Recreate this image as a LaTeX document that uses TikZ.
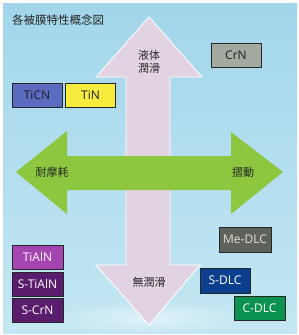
\documentclass[tikz,border=0pt]{standalone}
\usepackage{fontspec}
\setmainfont{Open Sans}
\newfontfamily\jp{Noto Sans CJK JP}
\definecolor{bgblue}{HTML}{A3D6EB}
\definecolor{bglight}{HTML}{C4E7F3}
\definecolor{pinkarrow}{HTML}{E2D3E3}
\definecolor{greenarrow}{HTML}{8DC63F}
\definecolor{cTiCN}{HTML}{5B6BBF}
\definecolor{cTiN}{HTML}{F7EC3E}
\definecolor{cCrN}{HTML}{A3AAA0}
\definecolor{cTiAlN}{HTML}{A445B2}
\definecolor{cSTi}{HTML}{5A1C6C}
\definecolor{cMe}{HTML}{5F6259}
\definecolor{cSDLC}{HTML}{0D3F8F}
\definecolor{cCDLC}{HTML}{0B9250}
\definecolor{darktext}{HTML}{1E1E2A}
\tikzset{
  film/.style={draw=black!85, line width=1pt, minimum width=50pt, minimum height=24pt,
    inner sep=0pt, font=\fontsize{12}{12}\selectfont},
  jplabel/.style={font=\jp\fontsize{11}{13.5}\selectfont, text=black!85, align=center, inner sep=0pt},
}
\begin{document}
\begin{tikzpicture}[x=1pt,y=-1pt]
\useasboundingbox (0,0) rectangle (299,335);
\fill[white] (0,0) rectangle (299,335);
\shade[top color=bgblue, bottom color=bglight] (3,3) rectangle (297,333);
\shade[inner color=white, outer color=bglight, opacity=0.5] (150,318) ellipse (95 and 16);
% title
\node[font=\jp\fontsize{11.5}{13}\selectfont, anchor=west, inner sep=0pt, text=black!85] (title) at (12,20) {各被膜特性概念図};
% vertical arrow
\draw[fill=pinkarrow, draw=white, line width=0.8pt]
  (149,17) -- (202,77) -- (170,77) -- (170,265) -- (200,265) -- (149,325)
  -- (96,265) -- (126,265) -- (126,77) -- (96,77) -- cycle;
% horizontal arrow
\fill[greenarrow]
  (16,172) -- (67,131) -- (67,156) -- (231,156) -- (231,132) -- (283,172)
  -- (231,214) -- (231,190) -- (67,190) -- (67,214) -- cycle;
% labels
\node[jplabel] (liq) at (149,62) {液体\\潤滑};
\node[jplabel] (nolub) at (149,282) {無潤滑};
\node[jplabel] (wear) at (52,172) {耐摩耗};
\node[jplabel] (slide) at (243,172) {摺動};
% films
\node[film, fill=cTiCN, text=darktext] (ticn) at (37,95) {TiCN};
\node[film, fill=cTiN, text=darktext] (tin) at (90.5,95) {TiN};
\node[film, fill=cCrN, text=darktext] (crn) at (236,55) {CrN};
\node[film, fill=cTiAlN, text=white!90!pink, minimum width=51pt] (tialn) at (37.5,257) {TiAlN};
\node[film, fill=cSTi, text=white, minimum width=51pt] (stialn) at (37.5,284) {S-TiAlN};
\node[film, fill=cSTi, text=white, minimum width=51pt] (scrn) at (37.5,310) {S-CrN};
\node[film, fill=cMe, text=white!88!black, minimum width=52pt, minimum height=25pt] (medlc) at (245,239.5) {Me-DLC};
\node[film, fill=cSDLC, text=white, minimum height=25pt] (sdlc) at (225,280.5) {S-DLC};
\node[film, fill=cCDLC, text=white, minimum width=51pt] (cdlc) at (259.5,308) {C-DLC};
\end{tikzpicture}
\end{document}
